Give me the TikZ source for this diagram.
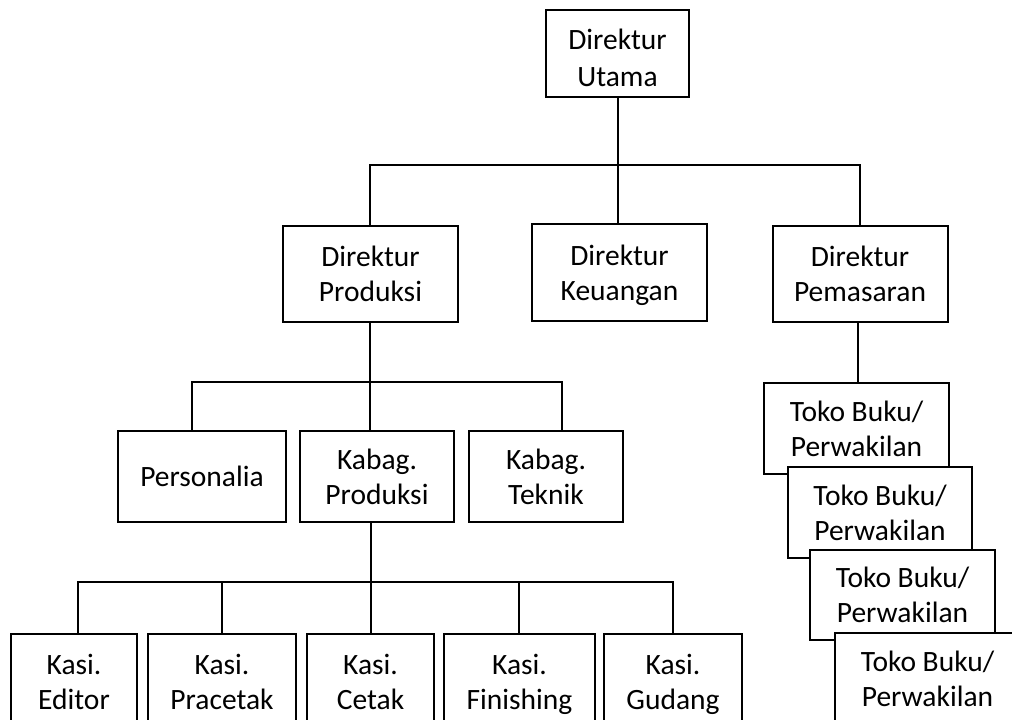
\documentclass[tikz,border=0pt]{standalone}
\usepackage{fontspec}
\setmainfont{Carlito}
\newcommand{\nodesc}[1]{\raisebox{0pt}[\height][0pt]{#1}}
\begin{document}
\begin{tikzpicture}[x=1pt,y=-1pt,
  box/.style={draw, line width=2pt, fill=white, align=center, inner sep=0pt,
    font=\fontsize{29.5}{35}\selectfont},
  txt/.style={align=center, inner sep=0pt, font=\fontsize{29.5}{37}\selectfont},
  conn/.style={line width=2pt}]
\useasboundingbox (0,0) rectangle (1012,720);
\clip (0,0) rectangle (1012,720);
% level 0
\node[box, minimum width=143pt, minimum height=87pt] (du) at (617.5,53.5) {};
\node[txt] (dut) at (617.5,58) {Direktur\\Utama};
% level 1
\node[box, minimum width=175pt, minimum height=96pt] (dp) at (370.5,274) {Direktur\\Produksi};
\node[box, minimum width=175pt, minimum height=97pt] (dk) at (619.5,272.5) {Direktur\\\nodesc{Keuangan}};
\node[box, minimum width=175pt, minimum height=96pt] (dm) at (860,274) {Direktur\\Pemasaran};
% level 2
\node[box, minimum width=168pt, minimum height=91pt] (pers) at (202,476.5) {Personalia};
\node[box, minimum width=154pt, minimum height=91pt] (kp) at (377,476.5) {Kabag.\\Produksi};
\node[box, minimum width=154pt, minimum height=91pt] (kt) at (546,476.5) {Kabag.\\Teknik};
% level 3
\node[box, minimum width=126pt, minimum height=96pt] (ke) at (74,682) {Kasi.\\Editor};
\node[box, minimum width=148pt, minimum height=96pt] (kpr) at (222,682) {Kasi.\\Pracetak};
\node[box, minimum width=127pt, minimum height=96pt] (kc) at (370.5,682) {Kasi.\\Cetak};
\node[box, minimum width=151pt, minimum height=96pt] (kf) at (519.5,682) {Kasi.\\\nodesc{Finishing}};
\node[box, minimum width=138pt, minimum height=96pt] (kg) at (673,682) {Kasi.\\\nodesc{Gudang}};
% bus points
\coordinate (bus1) at (618,165);
\coordinate (bus2) at (370,382);
\coordinate (bus3) at (371,582);
% connectors
\draw[conn] (bus1 |- du.south) -- (bus1);
\draw[conn] ([xshift=-0.5pt]dp.north) |- (bus1) -| (dm.north);
\draw[conn] (bus1) -- (bus1 |- dk.north);
\draw[conn] (bus2 |- dp.south) -- (bus2);
\draw[conn] ([xshift=-10pt]pers.north) |- (bus2) -| ([xshift=16pt]kt.north);
\draw[conn] (bus2) -- (bus2 |- kp.north);
\draw[conn] (bus3 |- kp.south) -- (bus3);
\draw[conn] ([xshift=4pt]ke.north) |- (bus3) -| (kg.north);
\draw[conn] (kpr.north) -- (kpr.north |- bus3);
\draw[conn] (bus3) -- (bus3 |- kc.north);
\draw[conn] ([xshift=-0.5pt]kf.north) -- ([xshift=-0.5pt]kf.north |- bus3);
% toko buku stack
\node[box, minimum width=185pt, minimum height=91pt] (t1) at (856.5,428.5) {Toko Buku/\\Perwakilan};
\draw[conn] ([xshift=-2pt]dm.south) -- ([xshift=-2pt]dm.south |- t1.north);
\node[box, minimum width=184pt, minimum height=91pt] (t2) at (880,512.5) {Toko Buku/\\Perwakilan};
\node[box, minimum width=185pt, minimum height=90pt] (t3) at (902.5,595) {Toko Buku/\\Perwakilan};
\node[box, minimum width=185pt, minimum height=91pt] (t4) at (927.5,678.5) {Toko Buku/\\Perwakilan};
\end{tikzpicture}
\end{document}
